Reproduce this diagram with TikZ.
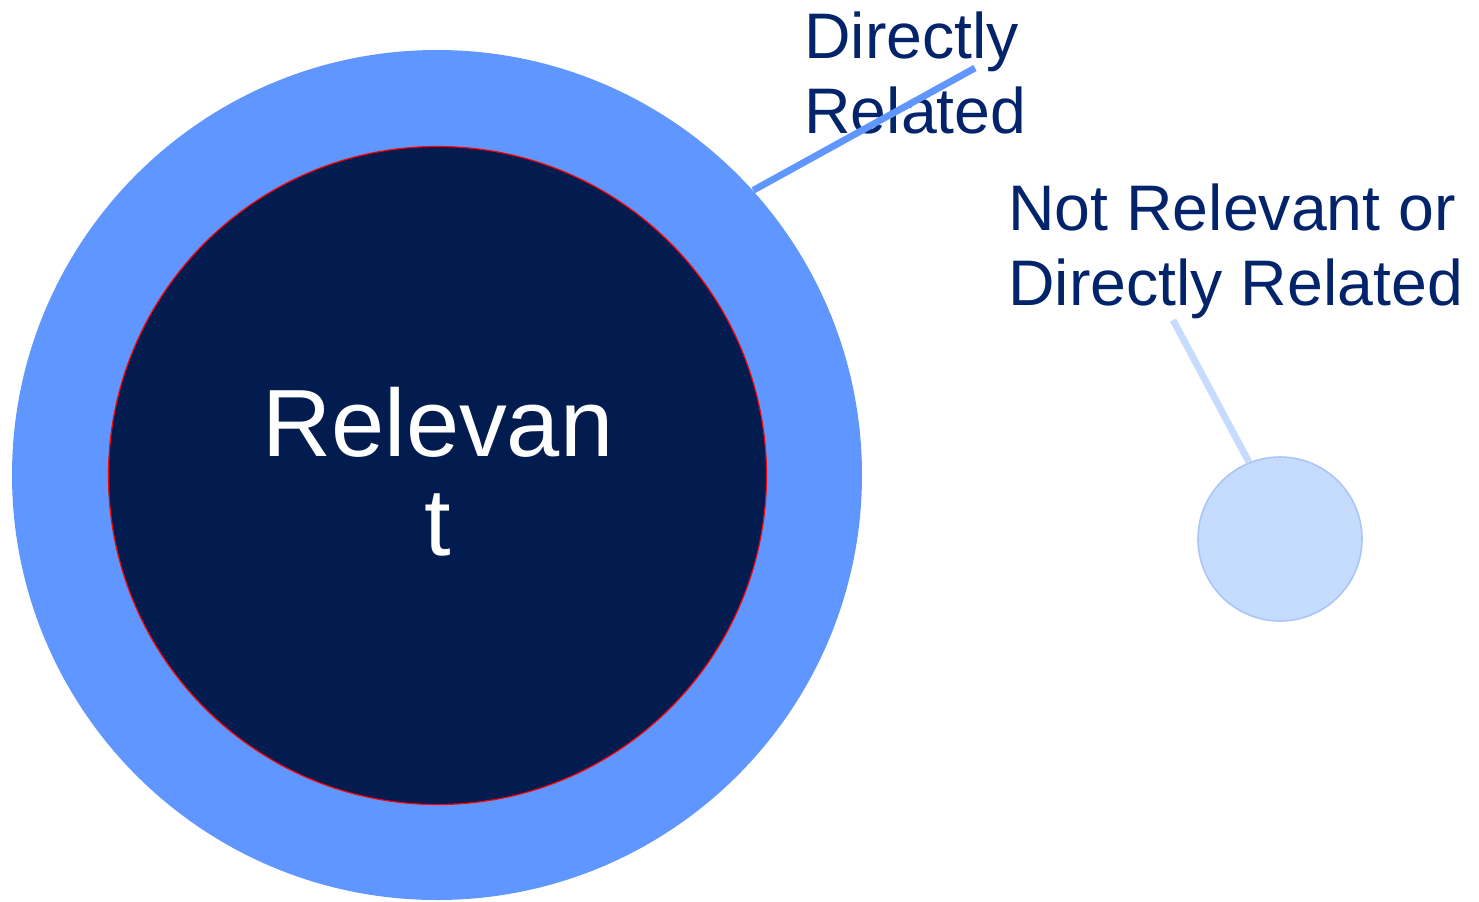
\documentclass[tikz,border=0pt]{standalone}
\usepackage{fontspec}
\setmainfont{Liberation Sans}
\definecolor{navy}{HTML}{021C50}
\definecolor{textnavy}{HTML}{03246B}
\definecolor{ringblue}{HTML}{6096FF}
\definecolor{paleblue}{HTML}{C5DCFF}
\definecolor{paleedge}{HTML}{A9C6FA}
\tikzset{
  ring/.style={circle, fill=ringblue, draw=none, inner sep=0pt, minimum size=425pt},
  core/.style={circle, fill=navy, draw=red, line width=0.6pt, inner sep=0pt, minimum size=329pt},
  smallc/.style={circle, fill=paleblue, draw=paleedge, line width=0.8pt, inner sep=0pt, minimum size=82pt},
  lbl/.style={text=textnavy, font=\fontsize{32.2}{37.5}\selectfont, align=left, inner sep=0pt},
  bigtxt/.style={text=white, font=\fontsize{47.8}{49.5}\selectfont, align=center, inner sep=0pt},
  conn/.style={line width=3.4pt},
}
\begin{document}
\begin{tikzpicture}[x=0.5pt,y=-0.5pt]
\useasboundingbox (0,0) rectangle (1479,901);
\node[ring] (outer) at (437,475) {};
\node[core] (inner) at (437.5,475.5) {};
\node[bigtxt, anchor=base] (rel) at (438,555) {Relevan\\t};
\node[smallc] (small) at (1280,539) {};
\node[lbl, anchor=base west] (dr) at (804,133) {Directly\\Related};
\node[lbl, anchor=base west] (nr) at (1008,305) {Not Relevant or\\Directly Related};
\coordinate (drend) at (975,68);
\coordinate (nrend) at (1173,320);
\draw[conn, ringblue] (outer.42.3) -- (drend);
\draw[conn, paleblue] (nrend) -- (small.112.8);
\end{tikzpicture}
\end{document}
